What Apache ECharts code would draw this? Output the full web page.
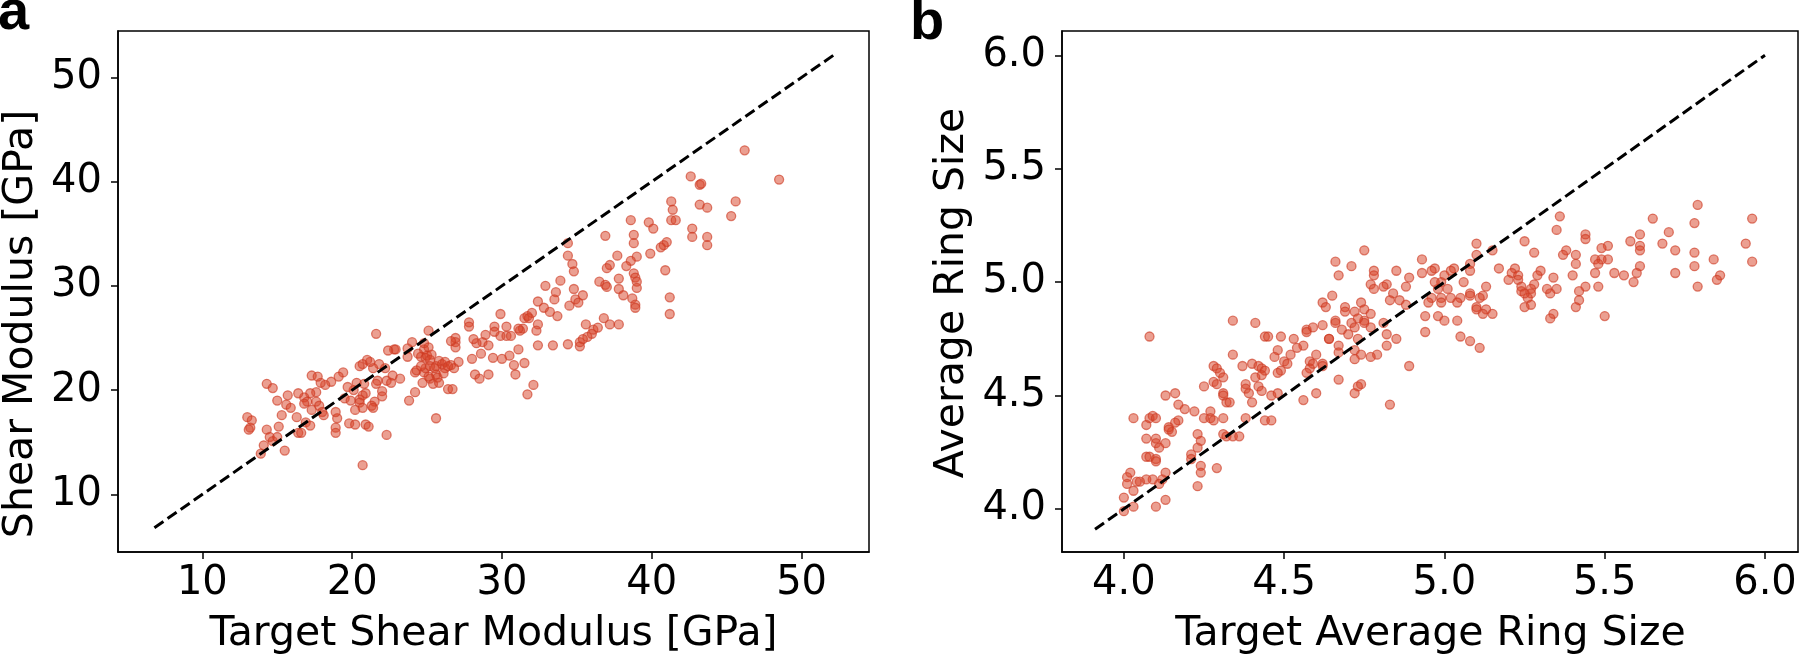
<!DOCTYPE html>
<html><head><meta charset="utf-8">
<script src="https://cdn.jsdelivr.net/npm/echarts@6/dist/echarts.min.js"></script>
<style>html,body{margin:0;padding:0;background:#fff}#c{width:1800px;height:656px}</style>
</head><body><div id="c"></div>
<script>
// Panel a: target vs generated shear modulus [GPa]
const targetShear = [46.2,48.5,42.6,43.2,43.3,41.3,41.4,43.2,43.7,45.6,45.3,38.6,39.8,40.1,41.3,41.6,38.8,38.8,36.9,42.7,42.7,43.7,43.7,41.0,40.8,40.6,39.9,39.0,38.6,37.7,34.4,34.4,34.7,34.8,37.2,37.0,38.3,40.9,38.8,38.9,39.0,39.0,37.8,36.5,36.9,37.0,32.9,33.9,33.6,34.8,34.9,35.1,35.4,34.5,37.8,38.1,38.7,38.9,38.9,41.2,41.2,32.4,32.8,33.2,33.5,33.7,32.0,32.4,31.5,31.7,31.8,31.4,31.2,31.1,30.3,29.9,29.5,29.9,30.3,30.6,28.9,28.7,28.3,27.8,27.8,28.1,29.1,32.3,31.1,32.4,33.4,34.4,35.2,35.2,35.6,36.0,36.1,36.4,36.8,37.2,37.8,35.7,35.4,26.9,26.9,26.9,26.6,25.1,24.0,23.7,22.8,22.9,22.4,21.6,24.8,24.6,24.9,23.7,23.2,22.7,22.2,22.3,21.8,21.4,21.2,21.0,20.7,20.5,21.7,21.6,22.0,22.0,21.5,21.3,21.4,20.9,20.7,20.5,20.8,20.1,20.3,19.7,19.5,19.9,20.5,20.7,20.2,19.8,20.2,20.9,21.1,18.9,18.9,19.0,18.9,19.4,19.1,18.6,18.2,17.9,17.3,17.7,17.6,17.2,16.8,17.0,16.8,17.6,17.8,18.0,18.1,17.3,16.4,15.7,15.0,15.6,15.9,15.3,16.3,16.9,17.2,16.4,16.6,15.1,14.3,14.7,13.0,13.3,13.2,13.1,14.3,14.5,14.7,15.0,14.1,13.9,15.5,22.3,20.7,25.6,24.2,23.8,24.2,24.3,24.8,24.9,25.2,25.4,24.7,25.6,25.7,25.8,26.0,26.2,26.2,25.6,26.4,26.7,27.1,26.6,26.8,28.0,28.2,28.5,29.1,28.6,29.4,30.0,30.5,30.8,30.9,31.5,31.7,32.1,24.8,25.1,24.4,25.0,25.3,25.2,24.6,25.2,25.5,26.4,25.1,25.8,26.1,29.5,22.6];
const predShear = [43.0,40.2,40.5,39.7,39.8,38.1,37.3,37.8,37.5,38.1,36.7,36.3,36.1,35.5,36.3,36.3,34.9,34.1,34.8,35.5,34.7,34.7,33.9,34.2,33.9,33.7,33.1,32.8,32.4,32.9,34.1,32.9,32.1,31.4,32.0,31.7,31.9,31.5,31.2,30.8,30.4,29.8,30.7,30.4,30.1,29.9,30.0,30.5,29.4,29.7,28.7,28.4,29.1,28.1,29.7,29.1,28.8,28.2,27.9,28.9,27.3,28.5,27.9,27.5,28.7,27.1,27.4,26.3,26.9,27.1,26.9,25.9,25.7,25.9,26.1,27.3,26.1,25.2,25.2,25.2,25.3,24.6,24.5,26.5,26.1,24.9,24.3,25.7,23.9,24.3,24.3,24.4,24.2,24.6,26.3,25.4,25.8,26.0,26.9,26.3,26.3,25.1,24.9,25.0,24.6,24.1,24.7,25.7,24.6,24.0,23.9,23.9,23.8,25.4,23.9,23.2,23.1,23.2,21.1,21.4,22.1,20.9,22.5,22.1,22.7,22.9,22.5,22.3,20.9,20.6,19.9,19.4,18.9,18.5,18.3,19.7,19.5,19.1,20.6,20.0,20.7,20.3,19.2,19.0,18.8,18.3,18.1,16.8,16.7,16.7,16.5,16.4,15.9,17.3,17.9,21.7,21.3,20.8,20.5,20.7,21.4,21.3,19.8,19.7,19.3,18.9,18.7,18.9,18.5,17.9,17.6,18.1,19.7,19.5,19.0,18.6,18.3,17.6,17.4,16.9,16.6,15.9,15.9,16.5,20.6,20.2,17.4,17.1,16.4,16.2,16.2,15.5,15.1,15.5,14.7,13.9,14.2,15.7,12.8,17.3,19.8,19.0,21.7,21.9,21.7,22.1,21.1,20.6,20.7,21.5,21.2,22.8,22.5,22.7,22.1,22.3,20.1,20.1,22.7,22.4,22.1,23.0,21.5,21.1,21.5,23.5,23.1,23.0,23.3,22.4,21.5,22.6,19.6,20.5,24.5,24.1,23.5,23.3,23.4,22.9,22.3,22.3,22.1,22.3,21.3,20.7,21.6,25.6,20.7];
// Panel b: target vs generated average ring size
const targetRing = [5.79,5.65,5.36,5.35,5.78,5.96,5.94,5.96,5.70,5.61,
  5.58,5.68,5.72,5.78,5.84,5.78,5.72,5.79,5.86,5.85,
  5.61,5.61,5.61,5.60,5.59,5.56,5.53,5.51,5.49,5.51,
  5.49,5.47,5.48,5.47,5.48,5.50,5.44,5.44,5.41,5.38,
  5.37,5.41,5.40,5.44,5.42,5.42,5.41,5.34,5.35,5.33,
  5.32,5.34,5.33,5.30,5.29,5.28,5.27,5.27,5.26,5.27,
  5.25,5.25,5.28,5.22,5.21,5.23,5.23,5.24,5.20,5.24,
  5.25,5.17,5.15,5.10,5.10,5.08,5.08,5.03,5.02,5.00,
  5.13,5.12,5.11,5.13,5.12,5.15,5.10,5.10,5.08,5.08,
  5.06,5.05,5.04,5.02,5.01,4.99,4.97,4.97,4.93,4.93,
  4.96,4.98,4.96,4.95,4.99,4.99,4.98,5.00,4.94,4.94,
  5.04,5.05,5.08,5.11,4.89,4.85,4.88,4.84,4.83,4.86,
  4.88,4.89,4.85,4.83,4.82,4.81,4.78,4.78,4.77,4.78,
  4.81,4.82,4.82,4.79,4.77,4.75,4.71,4.66,4.67,4.65,
  4.62,4.63,4.69,4.69,4.72,4.74,4.75,4.75,4.75,4.77,
  4.73,4.71,4.72,4.77,4.68,4.70,4.66,4.66,4.64,4.64,
  4.62,4.67,4.67,4.73,4.72,4.74,4.72,4.62,4.62,4.67,
  4.74,4.73,4.72,4.57,4.57,4.59,4.56,4.54,4.58,4.59,
  4.58,4.57,4.60,4.56,4.60,4.53,4.52,4.50,4.51,4.49,
  4.48,4.48,4.47,4.44,4.45,4.49,4.41,4.34,4.34,4.37,
  4.40,4.42,4.43,4.44,4.43,4.41,4.38,4.38,4.39,4.40,
  4.42,4.43,4.46,4.48,4.44,4.46,4.38,4.28,4.29,4.30,
  4.31,4.28,4.29,4.25,4.31,4.31,4.32,4.33,4.27,4.22,
  4.19,4.17,4.16,4.13,4.17,4.16,4.15,4.14,4.14,4.25,
  4.27,4.28,4.31,4.23,4.24,4.31,4.32,4.34,4.36,4.21,
  4.23,4.21,4.24,4.24,4.29,4.23,4.08,4.03,4.07,4.08,
  4.09,4.10,4.10,4.10,4.07,4.07,4.08,4.10,4.10,4.11,
  4.13,4.13,4.12,4.11,4.09,4.07,4.05,4.04,4.02,4.01,
  4.01,4.03,4.00,4.03,4.00,4.10,4.13];
const predRing = [5.34,5.28,5.29,5.23,5.26,5.28,5.17,5.09,5.22,5.21,
  5.18,5.17,5.14,5.13,5.10,5.07,5.04,4.98,5.03,5.01,
  5.16,5.14,5.07,5.04,5.00,5.03,5.04,5.16,5.15,5.10,
  5.10,5.10,5.08,5.04,4.98,4.85,5.21,5.19,5.12,5.14,
  5.12,5.08,5.03,4.98,4.96,4.92,4.89,5.02,4.97,4.95,
  4.97,4.86,4.84,5.05,5.03,4.99,4.97,4.95,4.93,4.90,
  4.89,5.18,5.13,5.06,5.04,5.03,5.01,4.98,5.01,4.96,
  4.95,5.06,5.14,5.17,5.12,5.08,5.05,5.06,5.05,5.03,
  4.98,4.94,4.93,4.88,4.86,4.86,4.89,4.88,4.95,4.94,
  5.00,4.93,4.91,4.93,4.97,5.00,5.00,5.06,5.10,5.04,
  5.05,4.97,4.93,4.91,4.93,4.91,4.85,4.83,4.85,4.78,
  4.83,4.76,4.74,4.71,5.02,5.05,4.98,4.95,4.92,4.92,
  4.90,4.63,4.75,4.46,4.99,4.98,5.05,5.03,4.99,4.97,
  4.82,4.77,4.72,4.68,4.67,5.14,5.07,5.09,5.03,4.94,
  4.91,4.89,4.89,4.87,4.87,4.91,4.88,4.83,4.82,4.86,
  4.84,4.82,4.80,4.80,4.79,4.77,4.83,4.82,4.75,4.75,
  4.81,4.72,4.69,4.75,4.70,4.68,4.66,4.64,4.63,4.57,
  4.55,4.54,4.51,4.79,4.78,4.80,4.72,4.71,4.65,4.64,
  4.62,4.60,4.68,4.48,4.51,4.75,4.68,4.65,4.64,4.61,
  4.60,4.70,4.67,4.76,4.76,4.76,4.82,4.83,4.68,4.63,
  4.64,4.63,4.62,4.61,4.59,4.58,4.55,4.53,4.51,4.47,
  4.54,4.52,4.50,4.51,4.39,4.39,4.40,4.63,4.62,4.60,
  4.58,4.56,4.55,4.54,4.51,4.50,4.47,4.47,4.43,4.43,
  4.44,4.46,4.51,4.50,4.39,4.38,4.34,4.36,4.35,4.40,
  4.40,4.39,4.40,4.33,4.30,4.33,4.32,4.32,4.32,4.24,
  4.27,4.22,4.19,4.16,4.18,4.10,4.76,4.40,4.37,4.40,
  4.41,4.40,4.31,4.29,4.31,4.23,4.23,4.22,4.21,4.27,
  4.29,4.16,4.13,4.11,4.13,4.13,4.12,4.12,4.16,4.14,
  4.11,4.08,4.05,4.01,3.99,4.01,4.04];
const diagA = [6.8, 52.2];
const diagB = [3.91, 6.0];
const ticksA = [10, 20, 30, 40, 50];
const ticksB = [4.0, 4.5, 5.0, 5.5, 6.0];

const FONT = '"DejaVu Sans", sans-serif';
const ptColor = 'rgba(216,66,40,0.64)';
const ptEdge = 'rgba(205,58,34,0.8)';

function zip(a, b) { return a.map((v, i) => [v, b[i]]); }
function axis(grid, min, max, ticks, fmt, margin) {
  return {
    type: 'value', gridIndex: grid, min: min, max: max,
    axisLine: { show: true, onZero: false, lineStyle: { color: '#000', width: 1.5 } },
    axisTick: { show: true, length: 7, customValues: ticks, lineStyle: { color: '#000', width: 1.5 } },
    axisLabel: { customValues: ticks, formatter: fmt, color: '#000', fontSize: 40, fontFamily: FONT, margin: margin },
    splitLine: { show: false }
  };
}
const fmtA = v => String(Math.round(v));
const fmtB = v => Number(v).toFixed(1);

function txt(t, x, y, font, rot, align) {
  return { type: 'text', x: x, y: y, rotation: rot || 0,
    style: { text: t, font: font, fill: '#000', textAlign: align || 'center', textVerticalAlign: 'middle', align: align || 'center', verticalAlign: 'middle' } };
}

const chart = echarts.init(document.getElementById('c'), null, { renderer: 'canvas' });
chart.setOption({
  animation: false,
  backgroundColor: '#fff',
  grid: [
    { left: 118, top: 31, width: 751, height: 521, show: true, borderColor: '#000', borderWidth: 1.5, backgroundColor: 'transparent' },
    { left: 1062, top: 31, width: 736, height: 521, show: true, borderColor: '#000', borderWidth: 1.5, backgroundColor: 'transparent' }
  ],
  xAxis: [axis(0, 4.37, 54.5, ticksA, fmtA, 12), axis(1, 3.807, 6.103, ticksB, fmtB, 12)],
  yAxis: [axis(0, 4.47, 54.45, ticksA, fmtA, 16), axis(1, 3.81, 6.107, ticksB, fmtB, 16)],
  series: [
    { type: 'scatter', xAxisIndex: 0, yAxisIndex: 0, data: zip(targetShear, predShear), symbolSize: 9,
      itemStyle: { color: ptColor, borderColor: ptEdge, borderWidth: 1.3 }, z: 2 },
    { type: 'line', xAxisIndex: 0, yAxisIndex: 0, data: zip(diagA, diagA), symbol: 'none',
      lineStyle: { color: '#000', width: 3, type: [11, 5] }, z: 3 },
    { type: 'scatter', xAxisIndex: 1, yAxisIndex: 1, data: zip(targetRing, predRing), symbolSize: 9,
      itemStyle: { color: ptColor, borderColor: ptEdge, borderWidth: 1.3 }, z: 2 },
    { type: 'line', xAxisIndex: 1, yAxisIndex: 1, data: zip(diagB, diagB), symbol: 'none',
      lineStyle: { color: '#000', width: 3, type: [11, 5] }, z: 3 }
  ],
  graphic: [
    txt('a', -2, 14, 'bold 56px "Liberation Sans", Arial, sans-serif', 0, 'left'),
    txt('b', 910, 24, 'bold 56px "Liberation Sans", Arial, sans-serif', 0, 'left'),
    txt('Target Shear Modulus [GPa]', 493.5, 634, '41px ' + FONT),
    txt('Target Average Ring Size', 1430.5, 634, '41px ' + FONT),
    txt('Shear Modulus [GPa]', 21.5, 324, '41px ' + FONT, Math.PI / 2),
    txt('Average Ring Size', 952, 293, '41px ' + FONT, Math.PI / 2)
  ]
});
</script></body></html>
